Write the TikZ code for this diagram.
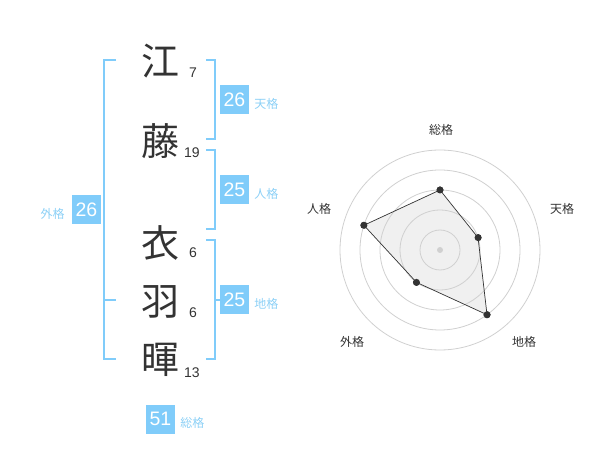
\documentclass[tikz,border=0pt]{standalone}
\usepackage{fontspec}
\setmainfont{Liberation Sans}
\newfontfamily\cjk{Noto Sans CJK JP}
\usetikzlibrary{positioning}
\definecolor{skyblue}{RGB}{128,204,250}
\definecolor{labelblue}{RGB}{140,208,246}
\definecolor{inkgrey}{RGB}{51,51,51}
\definecolor{ringgrey}{RGB}{208,208,208}
\definecolor{areagrey}{RGB}{240,240,240}
\begin{document}
\begin{tikzpicture}[x=1pt, y=-1pt,
    kanji/.style={font=\cjk\fontsize{38}{38}\selectfont, text=inkgrey, inner sep=0pt},
    strokes/.style={font=\fontsize{14}{14}\selectfont, text=inkgrey, inner sep=0pt},
    scorebox/.style={fill=skyblue, text=white, minimum size=29pt, inner sep=0pt, font=\fontsize{19.5}{19.5}\selectfont},
    kaku/.style={font=\cjk\fontsize{12}{12}\selectfont, text=labelblue, inner sep=0pt},
    bracket/.style={draw=skyblue, line width=2pt},
    ring/.style={draw=ringgrey, line width=0.8pt},
    dot/.style={circle, fill=inkgrey, inner sep=0pt, minimum size=7pt},
    axis/.style={font=\cjk\fontsize{12}{12}\selectfont, text=inkgrey, inner sep=0pt}]
    \useasboundingbox (0,0) rectangle (600,470);

    % name and strokes
    \node[kanji] at (160, 61)  (k1) {江};
    \node[kanji] at (160, 141) (k2) {藤};
    \node[kanji] at (160, 243) (k3) {衣};
    \node[kanji] at (160, 302) (k4) {羽};
    \node[kanji] at (160, 360) (k5) {暉};

    \node[strokes] at (193, 73)  (s1) {7};
    \node[strokes] at (192, 153) (s2) {19};
    \node[strokes] at (193, 253) (s3) {6};
    \node[strokes] at (193, 313) (s4) {6};
    \node[strokes] at (192, 373) (s5) {13};

    % brackets
    \draw[bracket] (116, 60) -- (104, 60) -- (104, 359) -- (116, 359);
    \draw[bracket] (104, 300) -- (116, 300);
    \draw[bracket] (206, 60) -- (215, 60) -- (215, 139) -- (206, 139);
    \draw[bracket] (206, 150) -- (215, 150) -- (215, 229) -- (206, 229);
    \draw[bracket] (206, 240) -- (215, 240) -- (215, 359) -- (206, 359);
    \draw[bracket] (215, 300) -- (221, 300);

    % scores
    \node[scorebox] at (234.5, 100) (ten) {26};
    \node[scorebox] at (234.5, 190) (jin) {25};
    \node[scorebox] at (234.5, 300) (chi) {25};
    \node[scorebox] at (86.5, 210)  (gai) {26};
    \node[scorebox] at (160.5, 419) (sou) {51};

    \node[kaku, right=5pt of ten, yshift=-4pt] (tenl) {天格};
    \node[kaku, right=5pt of jin, yshift=-4pt] (jinl) {人格};
    \node[kaku, right=5pt of chi, yshift=-4pt] (chil) {地格};
    \node[kaku, left=7pt of gai, yshift=-4pt]  (gail) {外格};
    \node[kaku, right=5pt of sou, yshift=-4pt] (soul) {総格};

    % radar chart
    \begin{scope}[shift={(440, 250)}, y=1pt]
        \coordinate (o) at (0, 0);
        \node[dot] at (90:60)   (p1) {};
        \node[dot] at (18:40)   (p2) {};
        \node[dot] at (-54:80)  (p3) {};
        \node[dot] at (-126:40) (p4) {};
        \node[dot] at (162:80)  (p5) {};

        \fill[areagrey] (p1.center) -- (p2.center) -- (p3.center) -- (p4.center) -- (p5.center) -- cycle;
        \foreach \r in {20, 40, 60, 80, 100}
            \draw[ring] (o) circle (\r);
        \fill[ringgrey] (o) circle (3);
        \draw[inkgrey, line width=0.7pt] (p1.center) -- (p2.center) -- (p3.center) -- (p4.center) -- (p5.center) -- cycle;
        \foreach \p in {p1, p2, p3, p4, p5}
            \fill[inkgrey] (\p) circle (3.5);

        \node[axis] at (1, 120)   (a1) {総格};
        \node[axis] at (122, 41)  (a2) {天格};
        \node[axis] at (84, -92)  (a3) {地格};
        \node[axis] at (-88, -92) (a4) {外格};
        \node[axis] at (-121, 41) (a5) {人格};
    \end{scope}
\end{tikzpicture}
\end{document}
